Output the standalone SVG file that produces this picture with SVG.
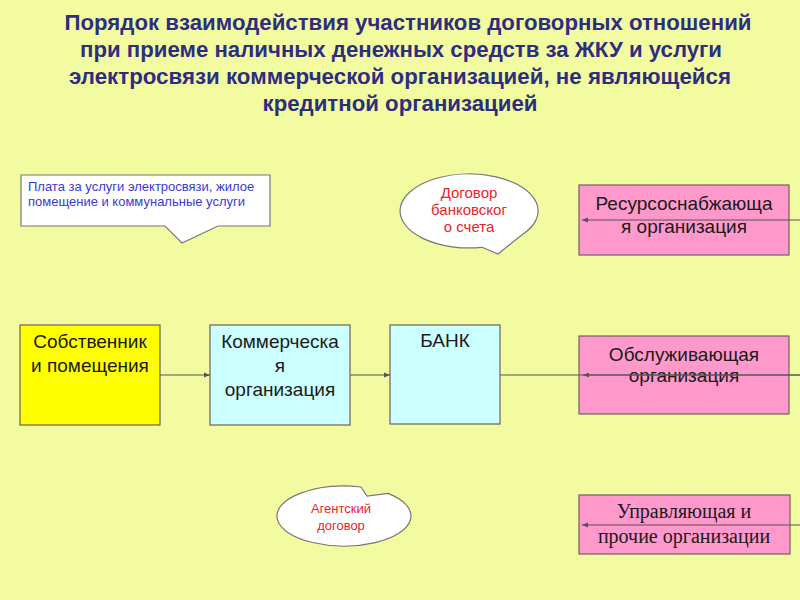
<svg xmlns="http://www.w3.org/2000/svg" width="800" height="600" viewBox="0 0 800 600">
<defs>
<style>
.title{font-family:"Liberation Sans",Arial,sans-serif;font-weight:bold;font-size:22px;fill:#2e2e80;text-anchor:middle}
.lbl{font-family:"Liberation Sans",Arial,sans-serif;font-size:19px;fill:#1a1a1a;text-anchor:middle}
.serif{font-family:"Liberation Serif","Times New Roman",serif;font-size:20px;fill:#1a1a1a;text-anchor:middle}
.red{font-family:"Liberation Sans",Arial,sans-serif;font-size:13px;fill:#e8242a;text-anchor:middle}
.red15{font-size:15px}
.blue{font-family:"Liberation Sans",Arial,sans-serif;font-size:13px;fill:#3a3ad0}
.box{stroke:#6f6060;stroke-width:1.2}
.pink{fill:#ff99cc}
.cyan{fill:#ccffff}
.yellow{fill:#ffff00}
.callout{fill:#ffffff;stroke:#777777;stroke-width:1.2}
.conn{stroke:#555555;stroke-width:1.2;fill:none}
</style>
<marker id="arr" viewBox="0 0 10 10" refX="10" refY="5" markerWidth="6" markerHeight="6" orient="auto-start-reverse" markerUnits="userSpaceOnUse">
<path d="M0,1 L10,5 L0,9 Z" fill="#555555"/>
</marker>
</defs>
<rect x="0" y="0" width="800" height="600" fill="#f3fba0"/>
<g id="title">
<text class="title" x="408" y="30" textLength="687" lengthAdjust="spacingAndGlyphs">Порядок взаимодействия участников договорных отношений</text>
<text class="title" x="401" y="57" textLength="642" lengthAdjust="spacingAndGlyphs">при приеме наличных денежных средств за ЖКУ и услуги</text>
<text class="title" x="400" y="84" textLength="662" lengthAdjust="spacingAndGlyphs">электросвязи коммерческой организацией, не являющейся</text>
<text class="title" x="400" y="111" textLength="275" lengthAdjust="spacingAndGlyphs">кредитной организацией</text>
</g>
<g id="callout-payment">
<path class="callout" d="M21,175 H270 V226 H218 L182,243 L165,226 H21 Z"/>
<text class="blue" x="28" y="191">Плата за услуги электросвязи, жилое</text>
<text class="blue" x="28" y="206">помещение и коммунальные услуги</text>
</g>
<g id="callout-bank-account">
<path class="callout" d="M482,247.3 L498,254 L522,234.7 A69,37 0 1 0 482,247.3 Z"/>
<text class="red red15" x="469" y="198">Договор</text>
<text class="red red15" x="469" y="215">банковског</text>
<text class="red red15" x="469" y="232">о счета</text>
</g>
<g id="callout-agent">
<path class="callout" d="M361,487 L367,496 L388,493.4 A67,30 0 1 1 361,487 Z"/>
<text class="red" x="341" y="513">Агентский</text>
<text class="red" x="341" y="530">договор</text>
</g>
<g id="node-owners">
<rect class="box yellow" x="20" y="325" width="140" height="100"/>
<text class="lbl" x="90" y="348">Собственник</text>
<text class="lbl" x="90" y="372">и помещения</text>
</g>
<g id="node-commercial">
<rect class="box cyan" x="210" y="325" width="140" height="100"/>
<text class="lbl" x="280" y="348">Коммерческа</text>
<text class="lbl" x="280" y="372">я</text>
<text class="lbl" x="280" y="396">организация</text>
</g>
<g id="node-bank">
<rect class="box cyan" x="390" y="325" width="110" height="99"/>
<text class="lbl" x="445" y="347">БАНК</text>
</g>
<g id="node-resource">
<rect class="box pink" x="579" y="185" width="210" height="70"/>
<text class="lbl" x="684" y="210">Ресурсоснабжающа</text>
<text class="lbl" x="684" y="233">я организация</text>
</g>
<g id="node-service">
<rect class="box pink" x="579" y="336" width="210" height="78"/>
<text class="lbl" x="684" y="361">Обслуживающая</text>
<text class="lbl" x="684" y="382">организация</text>
</g>
<g id="node-management">
<rect class="box pink" x="579" y="495" width="211" height="59"/>
<text class="serif" x="684" y="518">Управляющая и</text>
<text class="serif" x="684" y="543">прочие организации</text>
</g>
<g id="connectors">
<line class="conn" x1="160" y1="375" x2="210" y2="375" marker-end="url(#arr)"/>
<line class="conn" x1="350" y1="375" x2="390" y2="375" marker-end="url(#arr)"/>
<line class="conn" x1="800" y1="220" x2="582" y2="220" marker-end="url(#arr)"/>
<line class="conn" x1="500" y1="375" x2="800" y2="375"/>
<line class="conn" x1="800" y1="375" x2="583" y2="375" marker-end="url(#arr)"/>
<line class="conn" x1="800" y1="525" x2="582" y2="525" marker-end="url(#arr)"/>
</g>
</svg>
